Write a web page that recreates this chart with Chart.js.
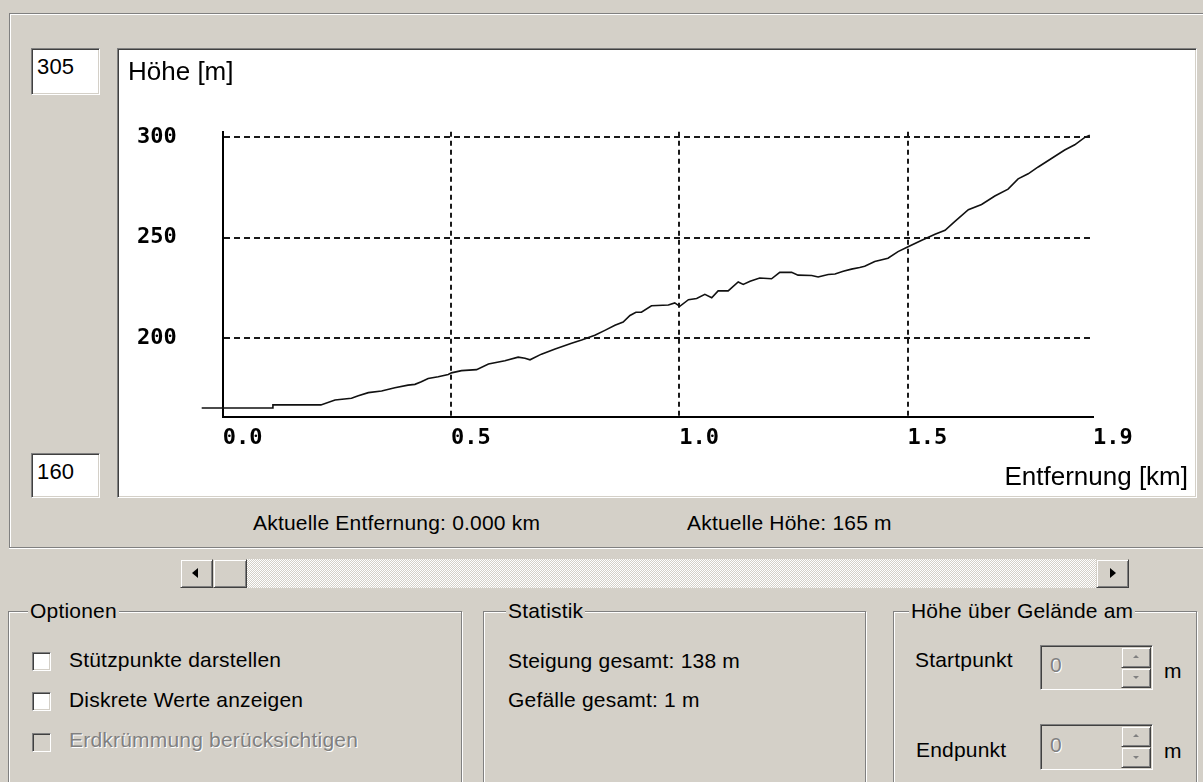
<!DOCTYPE html>
<html><head><meta charset="utf-8">
<script src="https://cdn.jsdelivr.net/npm/chart.js@4/dist/chart.umd.min.js"></script>
<style>
body{margin:0;width:1203px;height:782px;background:#d4d0c8;overflow:hidden;position:relative;font-family:"Liberation Sans",Arial,sans-serif;color:#000;}
.a{position:absolute;box-sizing:border-box}
.t{position:absolute;font-size:21px;line-height:24px;white-space:nowrap;letter-spacing:0.2px}
.panel{left:9px;top:13px;width:1200px;height:535px;border-top:1px solid #808080;border-left:1px solid #808080;border-bottom:1px solid #808080;box-shadow:0 1px 0 #fff, inset 1px 1px 0 #fff}
.sunk{border-top:1px solid #808080;border-left:1px solid #808080;border-bottom:1px solid #fff;border-right:1px solid #fff;box-shadow:inset 1px 1px 0 #404040, inset -1px -1px 0 #d4d0c8;background:#fff}
.raised{background:#d4d0c8;border-top:1px solid #d4d0c8;border-left:1px solid #d4d0c8;border-bottom:1px solid #404040;border-right:1px solid #404040;box-shadow:inset 1px 1px 0 #fff, inset -1px -1px 0 #808080}
.grp{border:1px solid #808080;box-shadow:inset 1px 1px 0 #fff, 1px 1px 0 #fff}
.lbl{background:#d4d0c8;padding:0 2px}
.track{background-color:#fff;background-image:repeating-conic-gradient(#d4d0c8 0 25%, #fff 0 50%);background-size:2px 2px}
.dis{color:#808080;text-shadow:1px 1px 0 #fff}
</style>
</head><body>
<div class="a panel"></div>
<div class="a sunk" style="left:31px;top:48px;width:69px;height:47px"></div>
<div class="t" style="left:37px;top:55px;font-size:22px">305</div>
<div class="a sunk" style="left:31px;top:453px;width:69px;height:45px"></div>
<div class="t" style="left:37px;top:460px;font-size:22px">160</div>

<div class="a sunk" style="left:117px;top:48px;width:1080px;height:450px"></div>
<canvas id="c" width="1075" height="446" style="position:absolute;left:119px;top:50px"></canvas>

<div class="t" style="left:253px;top:511px">Aktuelle Entfernung: 0.000 km</div>
<div class="t" style="left:687px;top:511px">Aktuelle Höhe: 165 m</div>

<div class="a raised" style="left:180px;top:559px;width:33px;height:29px"></div>
<div class="a" style="left:192px;top:568px;width:0;height:0;border-top:5px solid transparent;border-bottom:5px solid transparent;border-right:6px solid #000"></div>
<div class="a raised" style="left:213px;top:559px;width:34px;height:29px"></div>
<div class="a track" style="left:247px;top:559px;width:849px;height:29px"></div>
<div class="a raised" style="left:1096px;top:559px;width:33px;height:29px"></div>
<div class="a" style="left:1110px;top:568px;width:0;height:0;border-top:5px solid transparent;border-bottom:5px solid transparent;border-left:6px solid #000"></div>

<div class="a grp" style="left:8px;top:611px;width:454px;height:200px"></div>
<div class="t lbl" style="left:28px;top:599px">Optionen</div>
<div class="a sunk" style="left:32px;top:652px;width:19px;height:19px"></div>
<div class="t" style="left:69px;top:648px">Stützpunkte darstellen</div>
<div class="a sunk" style="left:32px;top:692px;width:19px;height:19px"></div>
<div class="t" style="left:69px;top:688px">Diskrete Werte anzeigen</div>
<div class="a sunk" style="left:32px;top:733px;width:19px;height:19px;background:#d4d0c8"></div>
<div class="t dis" style="left:69px;top:728px">Erdkrümmung berücksichtigen</div>

<div class="a grp" style="left:483px;top:611px;width:383px;height:200px"></div>
<div class="t lbl" style="left:506px;top:599px">Statistik</div>
<div class="t" style="left:508px;top:649px">Steigung gesamt: 138 m</div>
<div class="t" style="left:508px;top:688px">Gefälle gesamt: 1 m</div>

<div class="a grp" style="left:893px;top:611px;width:304px;height:200px"></div>
<div class="t lbl" style="left:909px;top:599px">Höhe über Gelände am</div>
<div class="t" style="left:915px;top:648px">Startpunkt</div>
<div class="a sunk" style="left:1040px;top:645px;width:113px;height:45px;background:#d4d0c8"></div>
<div class="t dis" style="left:1050px;top:653px">0</div>
<div class="a raised" style="left:1121px;top:647px;width:30px;height:21px"></div>
<div class="a raised" style="left:1121px;top:668px;width:30px;height:20px"></div>
<div class="a" style="left:1133px;top:655px;border-left:3px solid transparent;border-right:3px solid transparent;border-bottom:3px solid #808080"></div>
<div class="a" style="left:1133px;top:676px;border-left:3px solid transparent;border-right:3px solid transparent;border-top:3px solid #808080"></div>
<div class="t" style="left:1164px;top:659px">m</div>
<div class="t" style="left:916px;top:738px">Endpunkt</div>
<div class="a sunk" style="left:1040px;top:724px;width:113px;height:46px;background:#d4d0c8"></div>
<div class="t dis" style="left:1050px;top:733px">0</div>
<div class="a raised" style="left:1121px;top:726px;width:30px;height:21px"></div>
<div class="a raised" style="left:1121px;top:747px;width:30px;height:21px"></div>
<div class="a" style="left:1133px;top:734px;border-left:3px solid transparent;border-right:3px solid transparent;border-bottom:3px solid #808080"></div>
<div class="a" style="left:1133px;top:756px;border-left:3px solid transparent;border-right:3px solid transparent;border-top:3px solid #808080"></div>
<div class="t" style="left:1164px;top:739px">m</div>

<script>
// Elevation profile (distance in km, height in m)
const distKm = [-0.046,0.109,0.11,0.215,0.246,0.282,0.297,0.319,0.348,0.377,0.406,0.421,0.435,0.45,0.472,0.494,0.501,0.523,0.556,0.582,0.618,0.647,0.662,0.673,0.698,0.728,0.764,0.786,0.815,0.837,0.859,0.877,0.892,0.905,0.917,0.939,0.976,0.99,1.001,1.02,1.038,1.056,1.071,1.085,1.107,1.129,1.14,1.155,1.176,1.202,1.22,1.246,1.26,1.29,1.304,1.326,1.341,1.359,1.377,1.395,1.406,1.428,1.457,1.479,1.501,1.531,1.56,1.582,1.603,1.633,1.662,1.691,1.72,1.742,1.764,1.786,1.815,1.844,1.866,1.888,1.899];
const heightM = [165.5,165.5,167,167,169.4,170.3,171.5,173.1,173.9,175.5,176.8,177.2,178.5,180.1,181,182.1,182.9,184,184.5,187.3,188.9,190.7,190.2,189.4,192.2,194.8,197.6,199.2,201.6,204,206.5,208.1,211.4,213,213,216.2,216.6,217.6,215.9,219.2,219.8,221.9,220.2,223.6,223.6,228,226.8,228.4,230,229.6,232.8,232.8,231.4,231.2,230.5,231.7,232,233.3,234.4,235.2,235.8,238.2,239.8,243.1,245.5,248.7,251.7,253.7,258,263.9,266.5,270.7,274.1,279.2,281.7,285.1,289.3,293.5,296.1,299.8,300.8];
const xTickValues = [0, 0.5, 1.0, 1.5, 1.906];
const xTickLabels = ['0.0', '0.5', '1.0', '1.5', '1.9'];
const yTickValues = [200, 250, 300];
const yTickLabels = ['200', '250', '300'];
const xMin = 0, xMax = 1.906, yMin = 161, yMax = 302.6;

const tickFont = {family: 'DejaVu Sans Mono', size: 22, weight: 'bold'};
const titleFont = {family: 'Liberation Sans', size: 26, weight: 'normal'};

new Chart(document.getElementById('c'), {
  type: 'line',
  data: {datasets: [{
    data: distKm.map((d, i) => ({x: d, y: heightM[i]})),
    borderColor: '#111', borderWidth: 1.6, pointRadius: 0, tension: 0, fill: false, clip: false
  }]},
  options: {
    responsive: false, animation: false, devicePixelRatio: 1,
    layout: {padding: {left: 9, right: 6, top: 0, bottom: 0}},
    plugins: {
      legend: {display: false}, tooltip: {enabled: false},
      title: {display: true, text: 'Höhe [m]', align: 'start', color: '#000', font: titleFont, padding: {top: 7, bottom: 43.5}},
      subtitle: {display: true, text: 'Entfernung [km]', position: 'bottom', align: 'end', color: '#000', font: titleFont, padding: {top: 0, bottom: 2.4}}
    },
    scales: {
      x: {
        type: 'linear', min: xMin, max: xMax,
        afterBuildTicks: s => { s.ticks = xTickValues.map(v => ({value: v})); },
        ticks: {callback: (v, i) => xTickLabels[i], align: 'start', padding: 8, font: tickFont, color: '#000', autoSkip: false, maxRotation: 0},
        grid: {color: c => (c.index > 0 && c.index < xTickValues.length - 1) ? '#1a1a1a' : 'rgba(0,0,0,0)', lineWidth: 2, drawTicks: false},
        border: {display: true, color: '#000', width: 2, dash: [5, 4]},
        afterFit: s => { s.height = 45.4; }
      },
      y: {
        type: 'linear', min: yMin, max: yMax,
        afterBuildTicks: s => { s.ticks = yTickValues.map(v => ({value: v})); },
        ticks: {callback: (v, i) => yTickLabels[i], padding: 46, font: tickFont, color: '#000'},
        grid: {color: '#1a1a1a', lineWidth: 2, drawTicks: false},
        border: {display: true, color: '#000', width: 2, dash: [6, 4]},
        afterFit: s => { s.width = 94.7; }
      },
      yR: {
        type: 'linear', position: 'right', display: true, min: 0, max: 1,
        grid: {display: false, drawTicks: false}, border: {display: false}, ticks: {display: false},
        afterFit: s => { s.width = 95; }
      }
    }
  }
});
</script>
</body></html>
